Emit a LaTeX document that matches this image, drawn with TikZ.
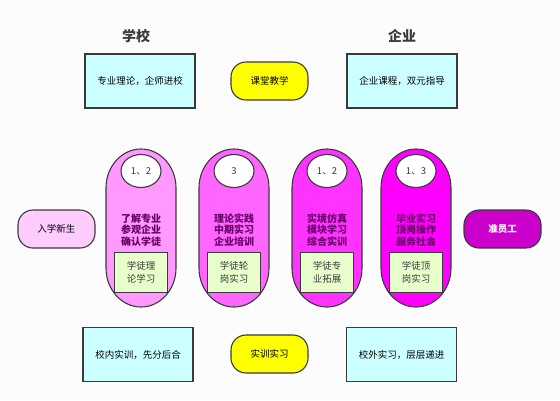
\documentclass[tikz,border=0pt]{standalone}
\usepackage{fontspec}
\setmainfont{Noto Sans CJK SC}
\usetikzlibrary{shapes.geometric}

\definecolor{bgwhite}{HTML}{FCFCFC}
\definecolor{linegray}{HTML}{3A3A3A}
\definecolor{boxcyan}{HTML}{CCFFFF}
\definecolor{pillyellow}{HTML}{FFFF00}
\definecolor{newpink}{HTML}{FFCCFF}
\definecolor{staffpurple}{HTML}{CC00CC}
\definecolor{stageA}{HTML}{FF99FF}
\definecolor{stageB}{HTML}{FF66FF}
\definecolor{stageC}{HTML}{FF33FF}
\definecolor{stageD}{HTML}{FF00FF}
\definecolor{apprgreen}{HTML}{E8FFCC}
\definecolor{taskpurple}{HTML}{660066}

\tikzset{
    infobox/.style={draw=linegray, line width=1.1pt, fill=boxcyan,
        minimum width=110pt, minimum height=54pt,
        font=\fontsize{9.5}{11}\selectfont},
    pill/.style={draw=linegray, line width=1.1pt, rounded corners=15pt,
        minimum width=77pt, minimum height=38pt,
        font=\fontsize{9.5}{11}\selectfont},
    stageline/.style={draw=linegray, line width=1.1pt},
    numbox/.style={ellipse, draw=linegray, line width=1.1pt, fill=white,
        minimum width=40pt, minimum height=33pt, inner sep=0pt,
        text=linegray, font=\fontsize{9.5}{11}\selectfont},
    task/.style={align=center, text=taskpurple,
        font=\bfseries\fontsize{10}{11.7}\selectfont},
    apprbox/.style={draw=linegray, line width=1.1pt, fill=apprgreen,
        minimum width=53pt, minimum height=40pt, align=center,
        text=linegray, font=\fontsize{9.5}{13.3}\selectfont},
    title/.style={text=linegray, font=\bfseries\fontsize{14}{16}\selectfont}
}

\begin{document}
\begin{tikzpicture}[x=1pt, y=-1pt]
        % Background and page size
        \fill[bgwhite] (0,0) rectangle (560,400);
        \useasboundingbox (0,0) rectangle (560,400);

        % Column titles
        \node[title] (school) at (136,36) {学校};
        \node[title] (company) at (402,36) {企业};

        % Top row
        \node[infobox] (theory) at (140,81) {专业理论，企师进校};
        \node[pill, fill=pillyellow] (classroom) at (269.5,81) {课堂教学};
        \node[infobox] (course) at (402,81) {企业课程，双元指导};

        % Bottom row
        \node[infobox] (inner) at (138,354.5) {校内实训，先分后合};
        \node[pill, fill=pillyellow] (practice) at (269.5,354) {实训实习};
        \node[infobox] (outer) at (401.5,354.5) {校外实习，层层递进};

        % Start and end
        \node[pill, fill=newpink] (freshman) at (56.5,229) {入学新生};
        \node[pill, fill=staffpurple, text=white, font=\bfseries\fontsize{9.5}{11}\selectfont] (staff) at (502.5,229) {准员工};

        % Four stages
        \foreach \i/\cx/\col/\num/\txt/\sub in {
            1/141/stageA/{1、2}/{了解专业\\参观企业\\确认学徒}/{学徒理\\论学习},
            2/234/stageB/{3}/{理论实践\\中期实习\\企业培训}/{学徒轮\\岗实习},
            3/327/stageC/{1、2}/{实境仿真\\模块学习\\综合实训}/{学徒专\\业拓展},
            4/416/stageD/{1、3}/{毕业实习\\顶岗操作\\服务社会}/{学徒顶\\岗实习}}
        {
            \coordinate (stage\i) at (\cx,228);
            \draw[stageline, fill=\col] (\cx-35,268) -- ++(0,-80)
                arc[start angle=180, end angle=360, x radius=35, y radius=39]
                -- ++(0,80)
                arc[start angle=0, end angle=180, x radius=35, y radius=39] -- cycle;
            \node[numbox] (num\i) at (\cx,171) {\num};
            \node[task] (task\i) at (\cx,230) {\txt};
            \node[apprbox] (appr\i) at (\cx,272.5) {\sub};
        }

\end{tikzpicture}
\end{document}
